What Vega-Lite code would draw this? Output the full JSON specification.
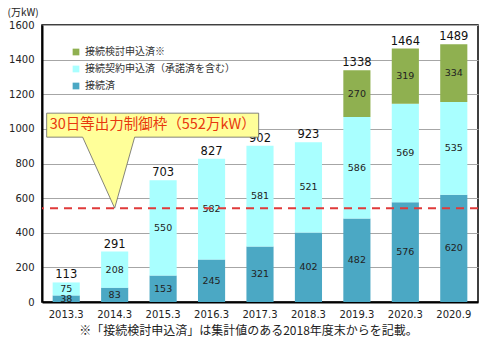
{
  "$schema": "https://vega.github.io/schema/vega-lite/v6.json",
  "autosize": {"type": "none"},
  "padding": {"left": 42, "top": 25, "right": 22, "bottom": 49},
  "width": 436,
  "height": 277,
  "background": "white",
  "config": {
    "view": {"stroke": "#000000", "strokeWidth": 1.5},
    "font": "DejaVu Sans"
  },
  "datasets": {
    "bars": [
      {"year": "2013.3", "series": "接続済", "ord": 1, "value": 38},
      {"year": "2013.3", "series": "接続契約申込済（承諾済を含む）", "ord": 2, "value": 75},
      {"year": "2014.3", "series": "接続済", "ord": 1, "value": 83},
      {"year": "2014.3", "series": "接続契約申込済（承諾済を含む）", "ord": 2, "value": 208},
      {"year": "2015.3", "series": "接続済", "ord": 1, "value": 153},
      {"year": "2015.3", "series": "接続契約申込済（承諾済を含む）", "ord": 2, "value": 550},
      {"year": "2016.3", "series": "接続済", "ord": 1, "value": 245},
      {"year": "2016.3", "series": "接続契約申込済（承諾済を含む）", "ord": 2, "value": 582},
      {"year": "2017.3", "series": "接続済", "ord": 1, "value": 321},
      {"year": "2017.3", "series": "接続契約申込済（承諾済を含む）", "ord": 2, "value": 581},
      {"year": "2018.3", "series": "接続済", "ord": 1, "value": 402},
      {"year": "2018.3", "series": "接続契約申込済（承諾済を含む）", "ord": 2, "value": 521},
      {"year": "2019.3", "series": "接続済", "ord": 1, "value": 482},
      {"year": "2019.3", "series": "接続契約申込済（承諾済を含む）", "ord": 2, "value": 586},
      {"year": "2019.3", "series": "接続検討申込済※", "ord": 3, "value": 270},
      {"year": "2020.3", "series": "接続済", "ord": 1, "value": 576},
      {"year": "2020.3", "series": "接続契約申込済（承諾済を含む）", "ord": 2, "value": 569},
      {"year": "2020.3", "series": "接続検討申込済※", "ord": 3, "value": 319},
      {"year": "2020.9", "series": "接続済", "ord": 1, "value": 620},
      {"year": "2020.9", "series": "接続契約申込済（承諾済を含む）", "ord": 2, "value": 535},
      {"year": "2020.9", "series": "接続検討申込済※", "ord": 3, "value": 334}
    ],
    "callout": [
      {"year": "2014.3", "limit": 542, "label": "30日等出力制御枠（552万kW）"}
    ]
  },
  "layer": [
    {
      "data": {"name": "bars"},
      "mark": {"type": "bar"},
      "encoding": {
        "x": {
          "field": "year", "type": "nominal",
          "scale": {"paddingInner": 0.44, "paddingOuter": 0.22},
          "axis": {
            "labelAngle": 0, "ticks": false, "labelPadding": 7,
            "labelFontSize": 10, "labelColor": "#222",
            "domainColor": "#000", "domainWidth": 2,
            "title": "※「接続検討申込済」は集計値のある2018年度末からを記載。",
            "titleFont": "Noto Sans CJK JP", "titleFontSize": 12,
            "titleFontWeight": "normal", "titleColor": "#222",
            "titlePadding": 6, "titleX": 206
          }
        },
        "y": {
          "field": "value", "type": "quantitative", "stack": "zero",
          "scale": {"domain": [0, 1600], "nice": false},
          "axis": {
            "tickCount": 8,
            "format": "d", "labelOverlap": false, "labelFlush": false,
            "ticks": false, "labelPadding": 8, "labelFontSize": 10,
            "labelColor": "#222", "gridColor": "#a6a6a6", "gridWidth": 1,
            "domainColor": "#000", "domainWidth": 2,
            "title": "(万kW)", "titleAngle": 0, "titleAlign": "left",
            "titleBaseline": "middle", "titleX": -35, "titleY": -13,
            "titleFont": "Noto Sans CJK JP", "titleFontSize": 10,
            "titleFontWeight": "normal", "titleColor": "#222"
          }
        },
        "color": {
          "field": "series", "type": "nominal",
          "scale": {
            "domain": ["接続検討申込済※", "接続契約申込済（承諾済を含む）", "接続済"],
            "range": ["#8fb050", "#a9ffff", "#4ba8c4"]
          },
          "legend": {
            "orient": "none", "legendX": 29, "legendY": 22, "title": null,
            "symbolType": "square", "symbolSize": 45, "symbolStrokeWidth": 0,
            "labelFont": "Noto Sans CJK JP", "labelFontSize": 10,
            "labelColor": "#333", "rowPadding": 7, "labelOffset": 4
          }
        },
        "order": {"field": "ord", "type": "quantitative"}
      }
    },
    {
      "data": {"name": "bars"},
      "mark": {"type": "text", "fontSize": 9.5, "color": "#222", "baseline": "middle"},
      "encoding": {
        "x": {"field": "year", "type": "nominal"},
        "y": {"field": "value", "type": "quantitative", "stack": "zero", "bandPosition": 0.5},
        "detail": {"field": "series"},
        "order": {"field": "ord", "type": "quantitative"},
        "text": {"field": "value", "type": "quantitative"}
      }
    },
    {
      "data": {"name": "bars"},
      "mark": {"type": "text", "fontSize": 11.5, "color": "#111", "baseline": "bottom", "dy": -2},
      "encoding": {
        "x": {"field": "year", "type": "nominal"},
        "y": {"aggregate": "sum", "field": "value", "type": "quantitative"},
        "text": {"aggregate": "sum", "field": "value", "type": "quantitative"}
      }
    },
    {
      "data": {"name": "callout"},
      "mark": {"type": "rule", "color": "#e03a3a", "strokeWidth": 2, "strokeDash": [8, 6]},
      "encoding": {
        "y": {"field": "limit", "type": "quantitative"}
      }
    },
    {
      "data": {"name": "callout"},
      "mark": {
        "type": "point", "filled": true, "opacity": 1, "size": 40000,
        "shape": "M0,0 L-0.32,-0.71 L-0.68,-0.71 L-0.68,-0.95 L1.44,-0.95 L1.44,-0.71 L0.20,-0.71 Z",
        "fill": "#ffff99", "stroke": "#666", "strokeWidth": 0.8
      },
      "encoding": {
        "x": {"field": "year", "type": "nominal"},
        "y": {"field": "limit", "type": "quantitative"}
      }
    },
    {
      "data": {"name": "callout"},
      "mark": {
        "type": "text", "font": "Noto Sans CJK JP", "fontSize": 14.5,
        "color": "#e8380d", "align": "center", "baseline": "middle",
        "dx": 38, "dy": -83
      },
      "encoding": {
        "x": {"field": "year", "type": "nominal"},
        "y": {"field": "limit", "type": "quantitative"},
        "text": {"field": "label"}
      }
    }
  ]
}
